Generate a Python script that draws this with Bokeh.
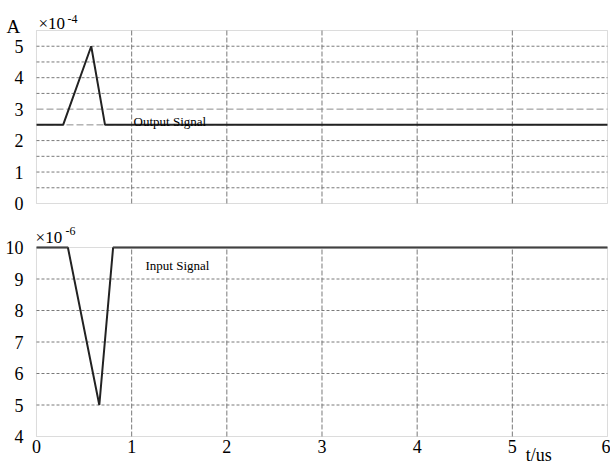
from bokeh.plotting import figure
from bokeh.layouts import column
from bokeh.models import FixedTicker, Label, Range1d, BoxAnnotation
from bokeh.embed import file_html
from bokeh.resources import INLINE

# ---- data ----
t_out = [0, 0.28, 0.575, 0.72, 6]          # t / us
a_out = [2.5, 2.5, 5.0, 2.5, 2.5]           # A x 1e-4
t_in = [0, 0.33, 0.66, 0.805, 6]
a_in = [10, 10, 5, 10, 10]                  # A x 1e-6

x_ticks = [0, 1, 2, 3, 4, 5, 6]
x_grid = [1, 2, 3, 4, 5]
top_ticks = [0, 1, 2, 3, 4, 5]
top_grid_short = [0.5, 1, 1.5, 2, 3.5, 4, 4.5, 5]
top_grid_long = [2.5, 3]
bot_ticks = [4, 5, 6, 7, 8, 9, 10]
bot_grid = [5, 6, 7, 8, 9]

T_MIN, T_MAX = 0, 6
TOP_MIN, TOP_MAX = 0, 5.5
BOT_MIN, BOT_MAX = 4, 10

FONT = "Liberation Serif"
GRID_COL = "#7a7a7a"
LONG_COL = "#8c8c8c"
BOX_COL = "#8a8a8a"
SIG_COL = "#222222"
W = 610
H1, H2 = 225, 241

# pixel scales (frame covers whole canvas)
PX_X = 95.17
X_START = -36 / PX_X
X_END = T_MAX + 3 / PX_X


def base_fig(h, y0, y1):
    p = figure(width=W, height=h, output_backend="svg", toolbar_location=None,
               x_range=Range1d(X_START, X_END), y_range=Range1d(y0, y1),
               min_border_left=0, min_border_right=0, min_border_top=0,
               min_border_bottom=0)
    p.outline_line_color = None
    p.background_fill_color = "white"
    p.border_fill_color = "white"
    p.xgrid.visible = False
    p.ygrid.visible = False
    return p


def style_axis(ax, ticks, standoff):
    ax.ticker = FixedTicker(ticks=ticks)
    ax.axis_line_color = None
    ax.major_tick_line_color = None
    ax.minor_tick_line_color = None
    ax.major_tick_out = 0
    ax.major_tick_in = 0
    ax.major_label_standoff = standoff
    ax.major_label_text_font = FONT
    ax.major_label_text_font_size = "18px"
    ax.major_label_text_color = "black"


def vgrid(p, xs, y0, y1, dash, color):
    n = len(xs)
    p.segment(x0=xs, x1=xs, y0=[y0] * n, y1=[y1] * n, line_color=color,
              line_dash=dash, line_width=1, level="underlay")


def hgrid(p, ys, dash, color):
    n = len(ys)
    p.segment(x0=[T_MIN] * n, x1=[T_MAX] * n, y0=ys, y1=ys, line_color=color,
              line_dash=dash, line_width=1, level="underlay")


def lab(p, x, y, text, size):
    p.add_layout(Label(x=x, y=y, text=text, text_font=FONT, text_font_size=size,
                       text_color="black", text_baseline="alphabetic"))


# ---- top panel ----
py = 173 / (TOP_MAX - TOP_MIN)
p1 = base_fig(H1, TOP_MIN - 22 / py, TOP_MAX + 30 / py)
p1.xaxis.visible = False
p1.yaxis.fixed_location = 0
style_axis(p1.yaxis[0], top_ticks, 13)
vgrid(p1, x_grid, TOP_MIN, TOP_MAX, "5 2", GRID_COL)
hgrid(p1, top_grid_short, "3 2", GRID_COL)
hgrid(p1, top_grid_long, "7 3", LONG_COL)
p1.add_layout(BoxAnnotation(left=T_MIN, right=T_MAX, bottom=TOP_MIN, top=TOP_MAX,
                            fill_alpha=0, line_color=BOX_COL, line_width=1))
p1.line(t_out, a_out, line_color=SIG_COL, line_width=2)
lab(p1, 1.02, 2.61, "Output Signal", "13px")
lab(p1, -0.315, 5.63, "A", "19px")
lab(p1, 0.02, 5.72, "×10", "17px")
lab(p1, 0.325, 5.88, "-4", "12px")

# ---- bottom panel ----
py2 = 189 / (BOT_MAX - BOT_MIN)
p2 = base_fig(H2, BOT_MIN - 30 / py2, BOT_MAX + 22 / py2)
p2.yaxis.fixed_location = 0
p2.xaxis.fixed_location = BOT_MIN
style_axis(p2.yaxis[0], bot_ticks, 13)
style_axis(p2.xaxis[0], x_ticks, 3)
vgrid(p2, x_grid, BOT_MIN, BOT_MAX, "5 2", GRID_COL)
hgrid(p2, bot_grid, "3 2", GRID_COL)
p2.add_layout(BoxAnnotation(left=T_MIN, right=T_MAX, bottom=BOT_MIN, top=BOT_MAX,
                            fill_alpha=0, line_color=BOX_COL, line_width=1))
p2.line(t_in, a_in, line_color=SIG_COL, line_width=2)
lab(p2, 1.145, 9.43, "Input Signal", "13px")
lab(p2, -0.01, 10.317, "×10", "17px")
lab(p2, 0.305, 10.51, "-6", "12px")
lab(p2, 5.14, 3.40, "t/us", "18px")

layout = column(p1, p2, spacing=0)
open("out.html", "w").write(file_html(layout, INLINE))
